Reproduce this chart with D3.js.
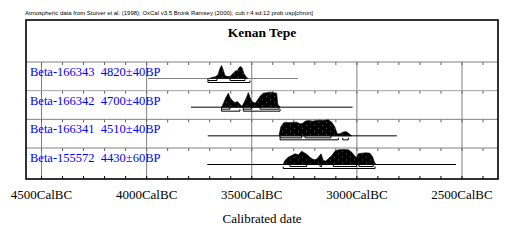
<!DOCTYPE html>
<html lang="en">
<head>
    <meta charset="utf-8">
    <title>Kenan Tepe</title>
    <script src="https://d3js.org/d3.v7.min.js"></script>
    <style>
        body { margin: 0; background: #fff; }
        svg text { font-family: "Liberation Serif", "Times New Roman", serif; }
        .axis path { display: none; }
    </style>
</head>
<body>
<div id="chart"></div>
<script>
    // Sample names and radiocarbon dates (top to bottom)
    var samples = ["Beta-166343", "Beta-166342", "Beta-166341", "Beta-155572"];
    var bpDates = ["4820\u00b140BP", "4700\u00b140BP", "4510\u00b140BP", "4430\u00b160BP"];

    // Axis tick labels (cal BC)
    var majorYears = [4500, 4000, 3500, 3000, 2500];
    var minorYears = d3.range(4500, 2399, -100);

    // Extent of the horizontal line drawn for each sample (cal BC)
    var rangeLines = [[3991, 3278], [3787, 3018], [3707, 2808], [3709, 2526]];

    // Calibrated probability distributions: [cal BC, relative probability]
    var dist1 = [[3701, 0], [3687, 1], [3668, 2], [3658, 4], [3649, 10], [3641, 13], [3634, 9],
        [3625, 3], [3615, 2], [3601, 2], [3592, 4], [3582, 6], [3573, 8], [3568, 7], [3558, 11],
        [3551, 12], [3544, 11], [3535, 5], [3525, 2], [3516, 0]];
    var dist2 = [[3641, 0], [3630, 5], [3620, 10], [3609, 14], [3601, 9.6], [3587, 6], [3577, 4.6],
        [3566, 5.6], [3554, 3], [3545, 1], [3538, 3], [3522, 10], [3514, 14.6], [3506, 10],
        [3498, 6], [3482, 4], [3474, 6], [3458, 11], [3443, 14], [3427, 14.5], [3411, 15],
        [3395, 14.5], [3379, 14], [3374, 3], [3363, 0]];
    var dist3 = [[3368, 0], [3360, 8.7], [3348, 12.7], [3335, 13.7], [3316, 13], [3300, 13.7],
        [3284, 13.7], [3268, 12], [3255, 12.5], [3244, 14.7], [3229, 15.3], [3205, 14.7],
        [3181, 15.6], [3157, 15.3], [3134, 16], [3117, 13.7], [3102, 8.7], [3091, 2], [3078, 2],
        [3065, 3.7], [3049, 4.3], [3034, 2], [3022, 0]];
    var dist4 = [[3348, 0], [3340, 4], [3324, 7.3], [3308, 9], [3292, 10.7], [3276, 9.7],
        [3260, 13.3], [3252, 12.3], [3236, 10.3], [3221, 7.3], [3205, 5], [3192, 5], [3181, 7.3],
        [3168, 10.7], [3157, 4], [3145, 3.5], [3134, 5.7], [3117, 9], [3102, 13.3], [3086, 14.7],
        [3062, 15], [3038, 14.7], [3022, 12.3], [3007, 8.3], [2999, 7], [2991, 10.7], [2975, 11.3],
        [2954, 11.7], [2935, 11.3], [2922, 7.3], [2916, 3.3], [2907, 0]];
    var distributions = [dist1, dist2, dist3, dist4];

    // 68.2% and 95.4% ranges (cal BC)
    var sigma1 = [
        [[3706, 3663], [3601, 3530]],
        [[3641, 3601], [3538, 3498], [3458, 3368]],
        [[3363, 3260], [3244, 3121]],
        [[3316, 3236], [3173, 3165], [3110, 2999], [2988, 2920]]
    ];
    var sigma2 = [
        [[3706, 3506]],
        [[3641, 3554], [3538, 3363]],
        [[3363, 3086], [3065, 3038]],
        [[3348, 2911]]
    ];

    var w = 522, h = 242;
    var box = {left: 26, right: 498, top: 20, bottom: 179};

    var svg = d3.select("#chart").append("svg")
        .attr("width", w)
        .attr("height", h);

    // dotted black fill used by OxCal
    var pat = svg.append("defs").append("pattern")
        .attr("id", "dots")
        .attr("patternUnits", "userSpaceOnUse")
        .attr("width", 8).attr("height", 6);
    pat.append("rect").attr("width", 8).attr("height", 6).attr("fill", "#000");
    pat.append("rect").attr("x", 2).attr("y", 1).attr("width", 1).attr("height", 1).attr("fill", "#555");
    pat.append("rect").attr("x", 6).attr("y", 4).attr("width", 1).attr("height", 1).attr("fill", "#555");

    var xScale = d3.scaleLinear()
        .domain([4500, 2500])
        .range([41, 461.5]);

    // top of each sample row
    var rowScale = d3.scaleLinear()
        .domain([0, samples.length - 1])
        .range([62, 148]);

    var probScale = d3.scaleLinear()
        .domain([0, 16])
        .range([0, 16]);

    // header note
    svg.append("text")
        .attr("x", 25)
        .attr("y", 14.5)
        .attr("textLength", 288)
        .attr("lengthAdjust", "spacingAndGlyphs")
        .style("font-family", "'Liberation Sans', Arial, sans-serif")
        .style("font-size", "5.5px")
        .text("Atmospheric data from Stuiver et al. (1998); OxCal v3.5 Bronk Ramsey (2000); cub r:4 sd:12 prob usp[chron]");

    // title
    svg.append("text")
        .attr("x", 262)
        .attr("y", 37)
        .attr("text-anchor", "middle")
        .style("font-size", "13.5px")
        .style("font-weight", "bold")
        .text("Kenan Tepe");

    // vertical grid lines
    svg.append("g")
        .attr("class", "axis")
        .attr("transform", "translate(0," + box.bottom + ")")
        .call(d3.axisTop(xScale).tickValues(majorYears)
            .tickSize(box.bottom - rowScale(0)).tickFormat(""))
        .selectAll("line").attr("stroke", "#808080");

    // row separators with minor ticks
    samples.forEach(function (s, i) {
        var g = svg.append("g")
            .attr("class", "axis")
            .attr("transform", "translate(0," + rowScale(i) + ")");
        g.call(d3.axisBottom(xScale).tickValues(minorYears).tickSize(3).tickFormat(""));
        g.selectAll("line").attr("stroke", "#606060");
        g.append("line")
            .attr("x1", box.left).attr("x2", box.right)
            .attr("stroke", i === 1 ? "#a0a0a0" : "#808080");
    });

    // minor ticks on the bottom border
    svg.append("g")
        .attr("class", "axis")
        .attr("transform", "translate(0," + box.bottom + ")")
        .call(d3.axisTop(xScale).tickValues(minorYears).tickSize(3).tickFormat(""))
        .selectAll("line").attr("stroke", "#000");

    // sample labels
    svg.selectAll("text.label")
        .data(samples)
        .enter()
        .append("text")
        .attr("class", "label")
        .attr("x", 30)
        .attr("y", function (d, i) { return rowScale(i) + 14; })
        .attr("fill", "#0000ff")
        .style("font-size", "12.5px")
        .style("white-space", "pre")
        .text(function (d, i) { return d + "  " + bpDates[i]; });

    var area = d3.area()
        .x(function (d) { return xScale(d[0]); })
        .y0(0)
        .y1(function (d) { return -probScale(d[1]); });

    distributions.forEach(function (dist, i) {
        var base = rowScale(i) + 16.5;
        var g = svg.append("g").attr("transform", "translate(0," + base + ")");

        // full range line
        g.append("line")
            .attr("x1", xScale(rangeLines[i][0]))
            .attr("x2", xScale(rangeLines[i][1]))
            .attr("stroke", i === 0 ? "#808080" : "#000")
            .attr("stroke-width", 1);

        // probability distribution
        g.append("path")
            .datum(dist)
            .attr("d", area)
            .attr("fill", "url(#dots)")
            .attr("stroke", "#000")
            .attr("stroke-width", 0.6);

        // range brackets
        [[sigma1[i], 2], [sigma2[i], 4]].forEach(function (p) {
            p[0].forEach(function (r) {
                var x1 = xScale(r[0]), x2 = xScale(r[1]);
                g.append("path")
                    .attr("d", "M" + x1 + "," + (p[1] - 2) + "V" + p[1] + "H" + x2 + "V" + (p[1] - 2))
                    .attr("fill", "none")
                    .attr("stroke", "#000")
                    .attr("stroke-width", 1);
            });
        });
    });

    // outer frame
    svg.append("rect")
        .attr("x", box.left)
        .attr("y", box.top)
        .attr("width", box.right - box.left)
        .attr("height", box.bottom - box.top)
        .attr("fill", "none")
        .attr("stroke", "#000")
        .attr("stroke-width", 1.6);

    // tick labels
    var xAxis = svg.append("g")
        .attr("class", "axis")
        .attr("transform", "translate(0," + box.bottom + ")")
        .call(d3.axisBottom(xScale).tickValues(majorYears).tickSize(0).tickPadding(11)
            .tickFormat(function (d) { return d + "CalBC"; }));
    xAxis.selectAll("text")
        .attr("fill", "#000")
        .style("font-family", "'Liberation Serif', 'Times New Roman', serif")
        .style("font-size", "13px");

    // axis title
    svg.append("text")
        .attr("x", 262)
        .attr("y", 223)
        .attr("text-anchor", "middle")
        .style("font-size", "13px")
        .text("Calibrated date");
</script>
</body>
</html>
